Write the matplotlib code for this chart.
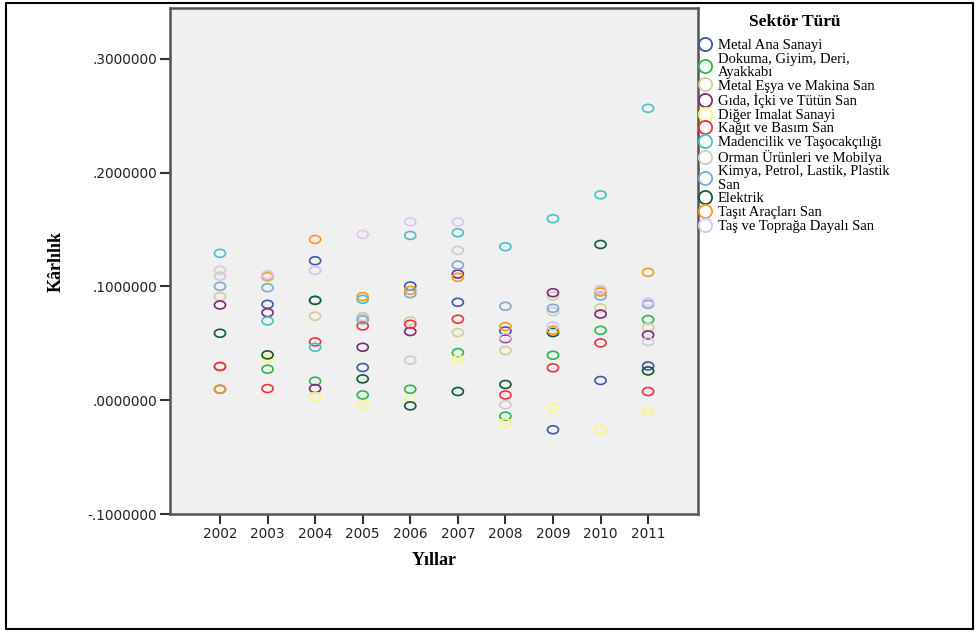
import numpy as np
import matplotlib
matplotlib.use("Agg")
import matplotlib.pyplot as plt
from matplotlib.path import Path
from matplotlib.transforms import Affine2D
from matplotlib.lines import Line2D
from matplotlib.patches import Rectangle
from matplotlib.ticker import FuncFormatter

years = [2002, 2003, 2004, 2005, 2006, 2007, 2008, 2009, 2010, 2011]

sectors = ["Metal Ana Sanayi", "Dokuma, Giyim, Deri,\nAyakkabı",
           "Metal Eşya ve Makina San", "Gıda, İçki ve Tütün San",
           "Diğer Imalat Sanayi", "Kağıt ve Basım San",
           "Madencilik ve Taşocakçılığı", "Orman Ürünleri ve Mobilya",
           "Kimya, Petrol, Lastik, Plastik\nSan", "Elektrik",
           "Taşıt Araçları San", "Taş ve Toprağa Dayalı San"]

metal_ana = [0.0096, 0.0842, 0.1225, 0.0287, 0.1003, 0.0860, 0.0608, -0.0260, 0.0173, 0.0301]
dokuma = [0.0296, 0.0272, 0.0167, 0.0046, 0.0096, 0.0418, -0.0140, 0.0395, 0.0614, 0.0708]
metal_esya = [0.0910, 0.1080, 0.0737, 0.0720, 0.0696, 0.0594, 0.0436, 0.0915, 0.0810, 0.0640]
gida = [0.0836, 0.0769, 0.0102, 0.0465, 0.0603, 0.1108, 0.0541, 0.0944, 0.0757, 0.0573]
diger = [0.1140, 0.0365, 0.0032, -0.0041, 0.0006, 0.0357, -0.0199, -0.0070, -0.0263, -0.0099]
kagit = [0.0296, 0.0102, 0.0512, 0.0652, 0.0667, 0.0711, 0.0046, 0.0284, 0.0503, 0.0076]
madencilik = [0.1290, 0.0696, 0.0465, 0.0886, 0.1447, 0.1471, 0.1348, 0.1594, 0.1804, 0.2564]
orman = [0.1090, 0.1100, 0.1140, 0.0734, 0.0351, 0.1316, -0.0041, 0.0778, 0.0960, 0.0515]
kimya = [0.1000, 0.0988, 0.0877, 0.0705, 0.0936, 0.1187, 0.0825, 0.0807, 0.0915, 0.0842]
elektrik = [0.0588, 0.0398, 0.0877, 0.0187, -0.0050, 0.0076, 0.0138, 0.0594, 0.1368, 0.0257]
tasit = [0.0096, 0.1090, 0.1412, 0.0910, 0.0965, 0.1079, 0.0646, 0.0614, 0.0950, 0.1123]
tas_toprak = [0.1140, 0.1100, 0.1140, 0.1456, 0.1567, 0.1564, 0.0550, 0.0652, 0.0974, 0.0863]

series = [metal_ana, dokuma, metal_esya, gida, diger, kagit,
          madencilik, orman, kimya, elektrik, tasit, tas_toprak]
colors = ["#3E58AC", "#2EB848", "#D3CE97", "#7C287D", "#FBF873", "#EF3338",
          "#48C2C5", "#CCCCCC", "#7AAAD5", "#0E5C36", "#F8981D", "#E0C4F0"]

# circles look a bit stretched sideways in the original
ellipse = Path.unit_circle().transformed(Affine2D().scale(1.4, 1.0))

fig = plt.figure(figsize=(9.8, 6.32), dpi=100)
ax = fig.add_axes([0.1735, 0.1867, 0.5388, 0.8006])
ax.set_facecolor("#F0F0F0")

for vals, col in zip(series, colors):
    ax.scatter(years, vals, marker=ellipse, s=64, facecolors="none",
               edgecolors=col, linewidths=1.2, zorder=3)

ax.set_xlim(2000.95, 2012.05)
ax.set_ylim(-0.1, 0.3445)
ax.set_xticks(years)
ax.set_yticks([-0.1, 0.0, 0.1, 0.2, 0.3])

def fmt(v, pos):
    s = f"{v:.7f}"
    return s.replace("0.", ".", 1) if s.startswith(("0.", "-0.")) else s

ax.yaxis.set_major_formatter(FuncFormatter(fmt))
ax.tick_params(axis="both", direction="out", length=7, width=1.5, pad=2.5,
               color="#333333", labelsize=9.8, labelcolor="#222222")
for sp in ax.spines.values():
    sp.set_color("#555555")
    sp.set_linewidth(1.8)

serif = ["Liberation Serif", "DejaVu Serif"]
ax.set_xlabel("Yıllar", family=serif, fontweight="bold", fontsize=13, labelpad=8)
ax.set_ylabel("Kârlılık", family=serif, fontweight="bold", fontsize=13, labelpad=16)

handles = [Line2D([], [], linestyle="none", marker="o", markersize=9.5,
                  markerfacecolor="none", markeredgecolor=c, markeredgewidth=1.3)
           for c in colors]
leg = fig.legend(handles, sectors, loc="upper left", bbox_to_anchor=(0.7115, 0.9385),
                 frameon=False, prop={"family": serif, "size": 10.5},
                 handletextpad=0.4, handlelength=1.0,
                 labelspacing=0.035, borderaxespad=0, borderpad=0.0)
for t in leg.get_texts():
    t.set_linespacing(1.02)

fig.text(795 / 980, 1 - 22 / 632, "Sektör Türü", family=serif, fontweight="bold",
         fontsize=12.5, ha="center", va="center")

fig.patches.append(Rectangle((6 / 980, 3 / 632), 967 / 980, 626 / 632,
                             transform=fig.transFigure, fill=False,
                             edgecolor="black", linewidth=1.5))

fig.savefig("out.png", dpi=100)
plt.close(fig)
